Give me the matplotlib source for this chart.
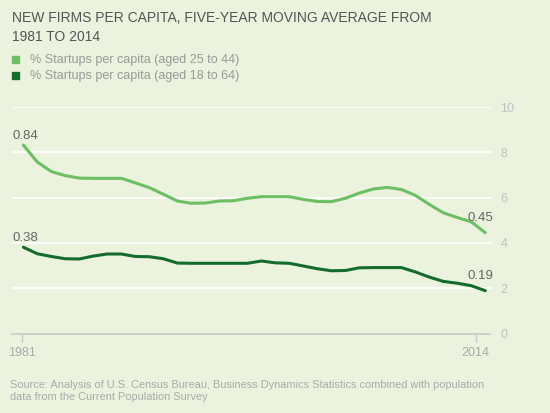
import numpy as np
import matplotlib.pyplot as plt

plt.rcParams['font.family'] = ['Liberation Sans', 'DejaVu Sans']

years = np.arange(1981, 2015)
ages_25_44 = [8.32, 7.57, 7.15, 6.97, 6.86, 6.85, 6.85, 6.85, 6.65, 6.44,
              6.15, 5.85, 5.75, 5.76, 5.85, 5.86, 5.97, 6.04, 6.04, 6.04,
              5.92, 5.83, 5.82, 5.97, 6.20, 6.38, 6.45, 6.36, 6.10, 5.70,
              5.33, 5.12, 4.93, 4.45]
ages_18_64 = [3.81, 3.52, 3.40, 3.30, 3.29, 3.42, 3.51, 3.51, 3.40, 3.39,
              3.30, 3.11, 3.10, 3.10, 3.10, 3.10, 3.10, 3.20, 3.12, 3.10,
              2.98, 2.86, 2.77, 2.78, 2.90, 2.91, 2.91, 2.91, 2.72, 2.49,
              2.30, 2.22, 2.11, 1.89]
series_names = ['% Startups per capita (aged 25 to 44)',
                '% Startups per capita (aged 18 to 64)']
end_labels = [('0.84', '0.45'), ('0.38', '0.19')]
y_ticks = [0, 2, 4, 6, 8, 10]
x_tick_labels = ['1981', '2014']

bg = '#ebf3de'
light = '#6cbf62'
dark = '#136b2c'

fig = plt.figure(figsize=(5.5, 4.13), dpi=100, facecolor=bg)
ax = fig.add_axes([12 / 550, (413 - 333.5) / 413, 480 / 550, 226.5 / 413])
ax.set_facecolor(bg)

ax.set_xlim(1980.19, 2014.48)
ax.set_ylim(0, 10)

for y in y_ticks[1:]:
    ax.axhline(y, color='white', lw=1.2, zorder=1)

ax.plot(years, ages_25_44, color=light, lw=2.2, zorder=3, solid_capstyle='round')
ax.plot(years, ages_18_64, color=dark, lw=2.2, zorder=3, solid_capstyle='round')

# value labels at both ends
for vals, (first, last) in zip([ages_25_44, ages_18_64], end_labels):
    ax.annotate(first, xy=(years[0], vals[0]), xytext=(-8, 2.5), textcoords='offset points',
                fontsize=9.5, color='#666666', ha='left', va='bottom')
    ax.annotate(last, xy=(years[-1], vals[-1]), xytext=(6, 6), textcoords='offset points',
                fontsize=9.5, color='#666666', ha='right', va='bottom')

for s in ['top', 'right', 'left']:
    ax.spines[s].set_visible(False)
ax.spines['bottom'].set_color('#c8c8c8')
ax.spines['bottom'].set_linewidth(1.2)
ax.spines['bottom'].set_bounds(1980.19, 2014.33)

ax.yaxis.tick_right()
ax.set_yticks(y_ticks)
ax.tick_params(axis='y', length=0, pad=6, labelsize=9, labelcolor='#c0c0c0')
ax.set_xticks([1980.93, 2013.31])
ax.set_xticklabels(x_tick_labels)
ax.tick_params(axis='x', length=6, width=1, color='#c8c8c8', pad=4,
               labelsize=9, labelcolor='#aaaaaa')

fig.text(12 / 550, 1 - 11 / 413, 'NEW FIRMS PER CAPITA, FIVE-YEAR MOVING AVERAGE FROM\n1981 TO 2014',
         fontsize=10, color='#555555', va='top', ha='left', linespacing=1.45)

for i, (name, c) in enumerate(zip(series_names, [light, dark])):
    yy = 1 - (59.5 + 16 * i) / 413
    fig.patches.append(plt.Rectangle((12 / 550, yy - 3.5 / 413), 7 / 550, 7 / 413,
                                     transform=fig.transFigure, color=c))
    fig.text(30 / 550, yy, name, fontsize=9, color='#999999', va='center', ha='left')

fig.text(10 / 550, 1 - 391 / 413,
         'Source: Analysis of U.S. Census Bureau, Business Dynamics Statistics combined with population\n'
         'data from the Current Population Survey',
         fontsize=7.9, color='#aaaaaa', va='center', ha='left', linespacing=1.2)

plt.savefig('out.png', dpi=100, facecolor=bg)
